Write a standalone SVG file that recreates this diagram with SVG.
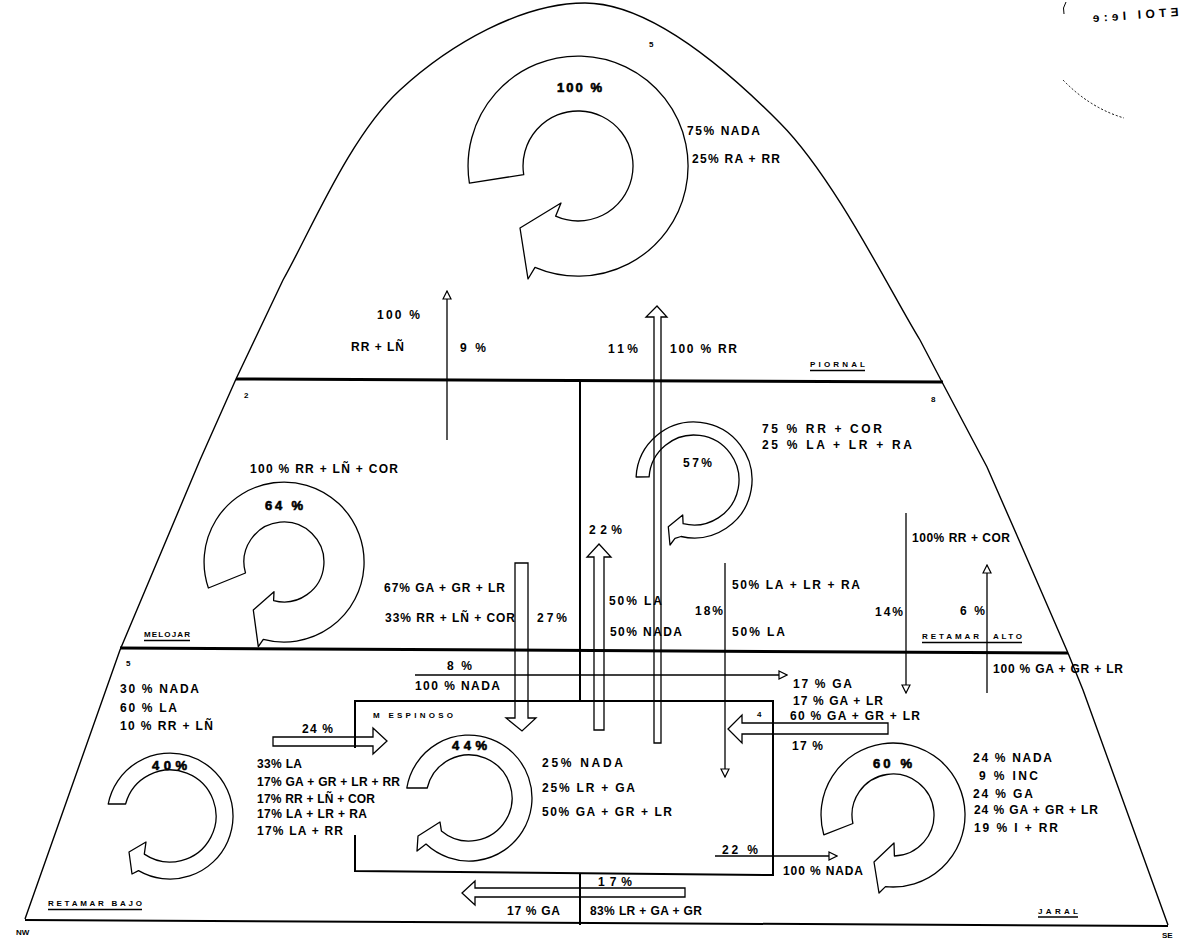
<svg xmlns="http://www.w3.org/2000/svg" width="1181" height="939" viewBox="0 0 1181 939">
<style>
.t{font-family:"Liberation Sans",Arial,sans-serif;font-size:12px;font-weight:bold;fill:#000}
.b{font-weight:bold;font-size:13px;stroke:#000;stroke-width:0.6}
.s{font-family:"Liberation Sans",Arial,sans-serif;font-size:8px;font-weight:bold;fill:#000}
.ln{stroke:#000;fill:none}
.cyc{fill:#fff;stroke:#000;stroke-width:1.3;stroke-linejoin:round}
.ha{fill:none;stroke:#000;stroke-width:1.3;stroke-linejoin:miter}
.ar{stroke:#000;stroke-width:1.3;fill:none;marker-end:url(#tri)}
</style>
<defs>
<marker id="tri" markerUnits="userSpaceOnUse" viewBox="0 0 10 10" refX="9" refY="5" markerWidth="10" markerHeight="10" orient="auto">
<path d="M1,1 L9,5 L1,9 Z" fill="#fff" stroke="#000" stroke-width="1.2"/>
</marker>
</defs>
<rect width="1181" height="939" fill="#fff"/>

<g id="frame">
<path class="ln" stroke-width="1.4" d="M 25,919 L 120,650 L 200,460 L 236,379 L 283,280 C 310.3,231.8 349.7,136.2 400,90 C 450.3,43.8 522,3 585,3 C 648,3 724.2,66.8 780,123 C 835.8,179.2 893,296.8 920,340 L 942,382 L 987,467 L 1022,547 L 1068,653 L 1083,690 L 1168,925"/>
<line class="ln" stroke-width="3" x1="236" y1="379" x2="943" y2="382"/>
<line class="ln" stroke-width="3" x1="120" y1="648" x2="1068" y2="653"/>
<line class="ln" stroke-width="2" x1="25" y1="920" x2="1168" y2="926"/>
<line class="ln" stroke-width="2" x1="580" y1="380" x2="580" y2="701"/>
<line class="ln" stroke-width="2" x1="580" y1="874" x2="580" y2="925"/>
<text class="s" x="16" y="935">NW</text>
<text class="s" x="1162" y="938">SE</text>
<path class="ln" stroke-width="1" stroke-dasharray="2 2" d="M 1063,80 Q 1090,108 1124,118"/>
<text class="t" x="1093" y="22" font-size="15" textLength="86" transform="rotate(-4 1093 22)">ɘ:ɘI IOTƎ</text>
<path class="ln" stroke-width="1" d="M 1066,2 Q 1062,8 1064,14"/>
</g>

<g id="piornal">
<path class="cyc" d="M 469.4,183.2 A 110 110 0 1 1 535.0,267.3 L 528,279 L 520,228 L 561,203 L 555.6,216.2 A 55 55 0 1 0 523.7,174.6 Z"/>
<text class="t b" x="557" y="92" textLength="45">100 %</text>
<text class="t" x="687" y="135" textLength="73">75% NADA</text>
<text class="t" x="692" y="163" textLength="88">25% RA + RR</text>
<text class="s" x="649" y="47">5</text>
<text class="s" x="810" y="367" textLength="55">PIORNAL</text>
<line class="ln" x1="810" y1="370.5" x2="865" y2="370.5" stroke-width="1.5"/>
</g>

<g id="melojar">
<path class="cyc" d="M 208.4,588 A 80 80 0 1 1 263.3,639.3 L 258.3,646.7 L 253.3,610 L 274,591.7 L 273.6,600.6 A 40 40 0 1 0 245.5,573 Z"/>
<text class="t b" x="265" y="510" textLength="38">64 %</text>
<text class="t" x="250" y="473" textLength="148">100 % RR + LÑ + COR</text>
<text class="s" x="244" y="398">2</text>
<text class="s" x="144" y="637" textLength="46">MELOJAR</text>
<line class="ln" x1="144" y1="640.5" x2="190" y2="640.5" stroke-width="1.5"/>
</g>

<g id="retamar-alto">
<path class="cyc" d="M 636.1,477 A 58 58 0 1 1 681,536.5 L 675,538.3 L 670,545 L 668.3,526.7 L 682.7,515 L 683.1,523.7 A 45 45 0 1 0 649.1,476.9 Z"/>
<text class="t" x="683" y="467" textLength="29" font-weight="normal">57%</text>
<text class="t" x="762" y="433" textLength="120">75 % RR + COR</text>
<text class="t" x="762" y="449" textLength="150">25 % LA + LR + RA</text>
<text class="s" x="931" y="402">8</text>
<text class="s" x="922" y="639" textLength="57">RETAMAR</text>
<text class="s" x="993" y="639" textLength="29">ALTO</text>
<line class="ln" x1="922" y1="642.5" x2="1022" y2="642.5" stroke-width="1.5"/>
</g>

<g id="espinoso">
<path class="ln" stroke-width="2" d="M 355,748 L 355,701 L 773,701 L 773,875 L 355,871 L 355,835"/>
<path class="cyc" d="M 406.8,788 A 63 63 0 1 1 426,844.1 L 417,851 L 418,836 L 440,822 L 441.4,830.9 A 43 43 0 1 0 427.2,788 Z"/>
<text class="t b" x="452" y="750" textLength="35">44%</text>
<text class="s" x="373" y="718" textLength="80">M ESPINOSO</text>
<text class="s" x="757" y="717">4</text>
<text class="t" x="542" y="767" textLength="81">25% NADA</text>
<text class="t" x="542" y="792" textLength="93">25% LR + GA</text>
<text class="t" x="542" y="816" textLength="130">50% GA + GR + LR</text>
</g>

<g id="retamar-bajo">
<path class="cyc" d="M 108.2,804 A 63 63 0 1 1 138.5,870.6 L 132,874 L 129,852 L 146,842 L 144.3,854.1 A 46 46 0 1 0 125.6,804 Z"/>
<text class="t b" x="152" y="770" textLength="35">40%</text>
<text class="s" x="126" y="666">5</text>
<text class="t" x="120" y="693" textLength="79">30 % NADA</text>
<text class="t" x="120" y="712" textLength="57">60 % LA</text>
<text class="t" x="120" y="730" textLength="93">10 % RR + LÑ</text>
<text class="s" x="48" y="906" textLength="94">RETAMAR BAJO</text>
<line class="ln" x1="48" y1="909.5" x2="142" y2="909.5" stroke-width="1.5"/>
</g>

<g id="jaral">
<path class="cyc" d="M 823.8,834.8 A 72 72 0 1 1 885.5,886.6 L 879,893 L 874,862 L 894,843 L 894.4,856 A 41 41 0 1 0 852.9,823.5 Z"/>
<text class="t b" x="873" y="768" textLength="39">60 %</text>
<text class="t" x="973" y="762" textLength="79">24 % NADA</text>
<text class="t" x="979" y="780" textLength="59">9 % INC</text>
<text class="t" x="973" y="798" textLength="60">24 % GA</text>
<text class="t" x="974" y="814" textLength="124">24 % GA + GR + LR</text>
<text class="t" x="974" y="832" textLength="84">19 % I + RR</text>
<text class="s" x="1038" y="914" textLength="40">JARAL</text>
<line class="ln" x1="1038" y1="917" x2="1078" y2="917" stroke-width="1.5"/>
</g>

<g id="connectors">
<line class="ar" x1="447" y1="440" x2="447" y2="291"/>
<text class="t" x="377" y="319" textLength="43">100 %</text>
<text class="t" x="351" y="351" textLength="53">RR + LÑ</text>
<text class="t" x="460" y="352" textLength="26">9%</text>

<path class="ha" d="M 654,743 L 654,317 L 646,317 L 657,306 L 667,317 L 661,317 L 661,743 Z"/>
<text class="t" x="608" y="353" textLength="30">11%</text>
<text class="t" x="670" y="353" textLength="67">100 % RR</text>

<path class="ha" d="M 594,730 L 594,557 L 587,557 L 599,544 L 611,557 L 604,557 L 604,730 Z"/>
<text class="t" x="589" y="534" textLength="33">22%</text>
<text class="t" x="609" y="605" textLength="53">50% LA</text>
<text class="t" x="610" y="636" textLength="72">50% NADA</text>

<path class="ha" d="M 515,563 L 528,563 L 528,718 L 536,718 L 522,731 L 506,718 L 515,718 Z"/>
<text class="t" x="384" y="592" textLength="121">67% GA + GR + LR</text>
<text class="t" x="385" y="622" textLength="130">33% RR + LÑ + COR</text>
<text class="t" x="537" y="622" textLength="30">27%</text>

<line class="ar" x1="725" y1="563" x2="725" y2="777"/>
<text class="t" x="695" y="615" textLength="28">18%</text>
<text class="t" x="732" y="589" textLength="128">50% LA + LR + RA</text>
<text class="t" x="732" y="636" textLength="53">50% LA</text>

<line class="ar" x1="906" y1="513" x2="906" y2="693"/>
<text class="t" x="912" y="542" textLength="98">100% RR + COR</text>
<text class="t" x="875" y="616" textLength="28">14%</text>

<line class="ar" x1="987" y1="693" x2="987" y2="565"/>
<text class="t" x="960" y="615" textLength="25">6%</text>
<text class="t" x="993" y="673" textLength="130">100 % GA + GR + LR</text>

<line class="ar" x1="415" y1="675" x2="787" y2="675"/>
<text class="t" x="447" y="670" textLength="25">8%</text>
<text class="t" x="415" y="690" textLength="85">100 % NADA</text>
<text class="t" x="793" y="688" textLength="59">17 % GA</text>
<text class="t" x="793" y="705" textLength="90">17 % GA + LR</text>
<text class="t" x="790" y="720" textLength="130">60 % GA + GR + LR</text>

<path class="ha" d="M 888,723 L 742,723 L 742,715 L 728,729 L 742,743 L 742,734 L 888,734 Z"/>
<text class="t" x="792" y="750" textLength="31">17 %</text>

<path class="ha" d="M 273,737 L 373,737 L 373,728 L 387,741 L 373,754 L 373,746 L 273,746 Z"/>
<text class="t" x="302" y="733" textLength="31">24 %</text>
<text class="t" x="257" y="768" textLength="45">33% LA</text>
<text class="t" x="257" y="786" textLength="143">17% GA + GR + LR + RR</text>
<text class="t" x="257" y="803" textLength="118">17% RR + LÑ + COR</text>
<text class="t" x="257" y="818" textLength="110">17% LA + LR + RA</text>
<text class="t" x="257" y="835" textLength="86">17% LA + RR</text>

<line class="ar" x1="715" y1="856" x2="837" y2="856"/>
<text class="t" x="722" y="854" textLength="36">22 %</text>
<text class="t" x="783" y="875" textLength="80">100 % NADA</text>

<path class="ha" d="M 685,888 L 475,888 L 475,881 L 462,893 L 475,905 L 475,897 L 685,897 Z"/>
<text class="t" x="598" y="886" textLength="34">17%</text>
<text class="t" x="507" y="915" textLength="53">17 % GA</text>
<text class="t" x="590" y="915" textLength="112">83% LR + GA + GR</text>
</g>
</svg>
